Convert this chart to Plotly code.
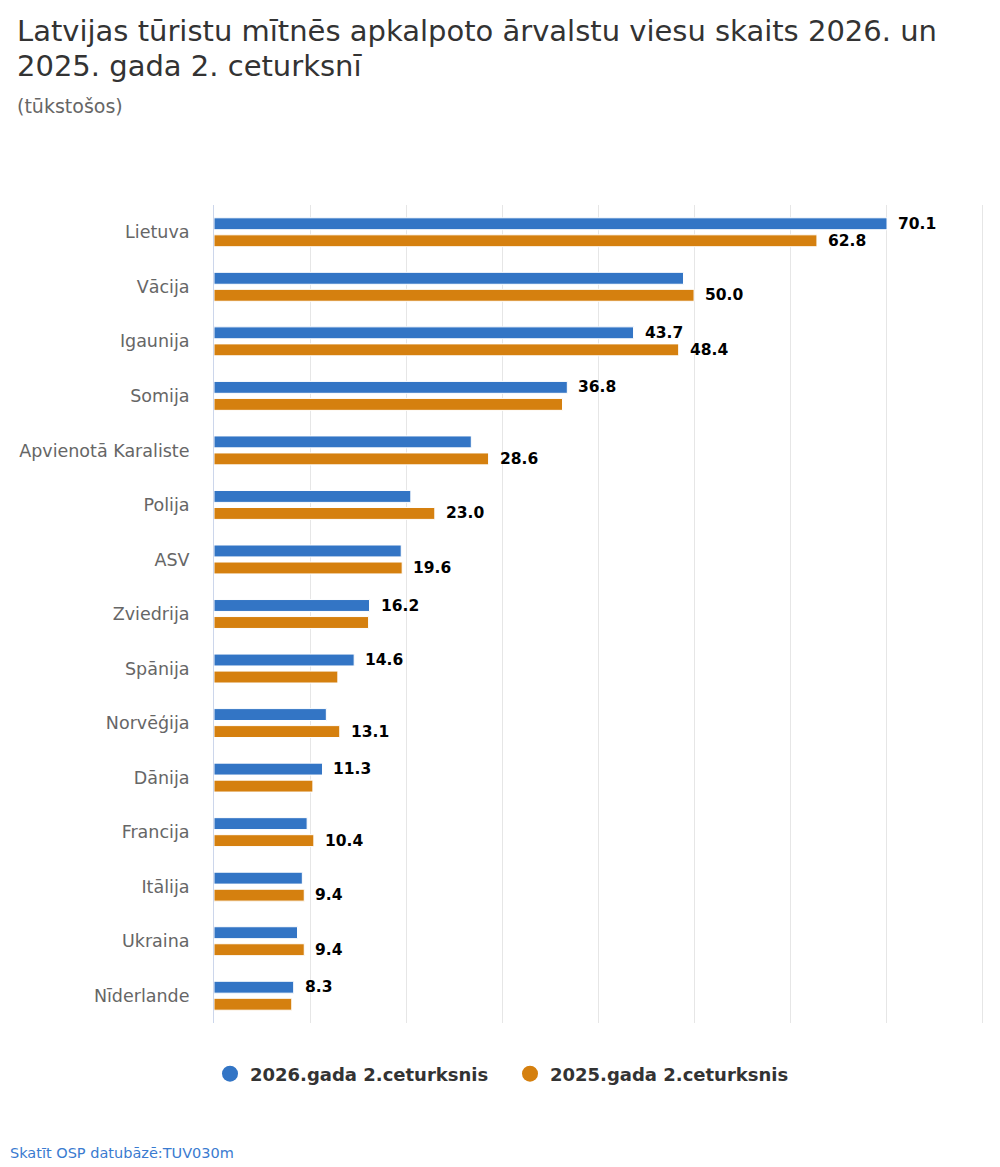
import plotly.graph_objects as go

# data
countries = ["Lietuva", "Vācija", "Igaunija", "Somija", "Apvienotā Karaliste", "Polija",
             "ASV", "Zviedrija", "Spānija", "Norvēģija", "Dānija", "Francija",
             "Itālija", "Ukraina", "Nīderlande"]
q2_2026 = [70.1, 48.9, 43.7, 36.8, 26.8, 20.5, 19.5, 16.2, 14.6, 11.7, 11.3, 9.7, 9.2, 8.7, 8.3]
q2_2025 = [62.8, 50.0, 48.4, 36.3, 28.6, 23.0, 19.6, 16.1, 12.9, 13.1, 10.3, 10.4, 9.4, 9.4, 8.1]
# which data labels are visible (the rest were hidden by overlap in the original)
show_2026 = [1, 0, 1, 1, 0, 0, 0, 1, 1, 0, 1, 0, 0, 0, 1]
show_2025 = [1, 1, 1, 0, 1, 1, 1, 0, 0, 1, 0, 1, 1, 1, 0]
series_names = ["2026.gada 2.ceturksnis", "2025.gada 2.ceturksnis"]

BLUE = "#3375c5"
ORANGE = "#d5800f"
FONT = "DejaVu Sans"

# page body adds an 8px margin, so the figure is a bit smaller than the window
W, H = 992, 1159
ML, MR, MT, MB = 206, 16, 197, 144
PW, PH = W - ML - MR, H - MT - MB


def px_x(px):
    # figure pixel -> paper x
    return (px - ML) / PW


def px_y(py):
    # figure pixel (from top) -> paper y
    return (H - MB - py) / PH


fig = go.Figure()

for name, vals, col in [(series_names[0], q2_2026, BLUE), (series_names[1], q2_2025, ORANGE)]:
    fig.add_trace(go.Bar(
        x=vals, y=countries, orientation="h", name=name,
        marker=dict(color=col, line=dict(color="white", width=1)),
        showlegend=False, hoverinfo="x+y",
    ))

# legend entries with round markers
for name, col in [(series_names[0], BLUE), (series_names[1], ORANGE)]:
    fig.add_trace(go.Scatter(
        x=[None], y=[None], mode="markers", name=name,
        marker=dict(color=col, size=16, symbol="circle"),
    ))

annotations = []
for vals, flags, shift in [(q2_2026, show_2026, 8.5), (q2_2025, show_2025, -8.5)]:
    for c, v, f in zip(countries, vals, flags):
        if not f:
            continue
        annotations.append(dict(
            x=v, y=c, xref="x", yref="y", text=f"{v:.1f}", showarrow=False,
            xanchor="left", yanchor="middle", xshift=9, yshift=shift,
            font=dict(family=FONT, size=15.5, color="#000000", weight="bold"),
        ))

title_lines = ["Latvijas tūristu mītnēs apkalpoto ārvalstu viesu skaits 2026. un",
               "2025. gada 2. ceturksnī"]
for i, line in enumerate(title_lines):
    annotations.append(dict(
        x=px_x(6.5), y=px_y(3.5 + 36 * i), xref="paper", yref="paper",
        text=line, showarrow=False, xanchor="left", yanchor="top",
        font=dict(family=FONT, size=29, color="#333333"),
    ))

annotations.append(dict(
    x=px_x(6.5), y=px_y(85), xref="paper", yref="paper",
    text="(tūkstošos)", showarrow=False, xanchor="left", yanchor="top",
    font=dict(family=FONT, size=19, color="#666666"),
))
annotations.append(dict(
    x=px_x(0), y=px_y(1135), xref="paper", yref="paper",
    text="Skatīt OSP datubāzē:TUV030m", showarrow=False, xanchor="left", yanchor="top",
    font=dict(family=FONT, size=14.5, color="#3a7bd0"),
))

fig.update_layout(
    width=W, height=H,
    paper_bgcolor="white", plot_bgcolor="white",
    font=dict(family=FONT, color="#333333"),
    margin=dict(l=ML, r=MR, t=MT, b=MB),
    barmode="group", bargap=0.376, bargroupgap=0.3,
    # range runs a hair past 80 so the last grid line is not dropped at the edge
    xaxis=dict(range=[0, 80.2], tick0=0, dtick=10, showticklabels=False, showgrid=True,
               gridcolor="#e6e6e6", gridwidth=1, zeroline=False, fixedrange=True),
    yaxis=dict(autorange="reversed", showline=True, linecolor="#ccd6eb", linewidth=1,
               ticks="", ticklabelstandoff=20, showgrid=False,
               tickfont=dict(family=FONT, size=17.5, color="#666666")),
    legend=dict(orientation="h", xref="container", x=202 / W, xanchor="left",
                yref="container", y=1 - 1047.5 / H, yanchor="top",
                font=dict(family=FONT, size=18, color="#333333", weight="bold"),
                itemsizing="trace", itemwidth=30, entrywidth=255),
    annotations=annotations,
)

fig.write_html("out.html")
